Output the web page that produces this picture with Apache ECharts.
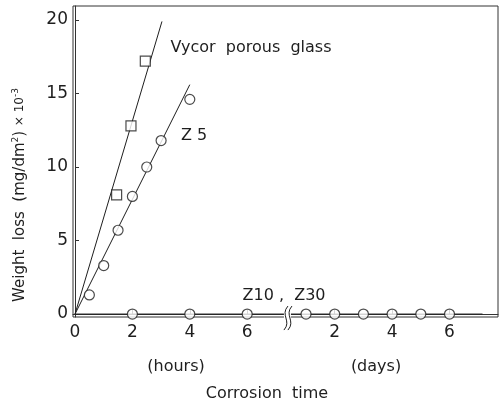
<!DOCTYPE html>
<html>
<head>
<meta charset="utf-8">
<script src="https://cdn.jsdelivr.net/npm/echarts@6/dist/echarts.min.js"></script>
<style>html,body{margin:0;padding:0;background:#fff}#c{width:499px;height:406px}</style>
</head>
<body>
<div id="c"></div>
<script>
// ---- data ----
// shared x axis: hours run 0..7, then day 0 sits at DAY_OFFSET
const DAY_OFFSET = 7.05;
const hourTicks = [0, 2, 4, 6];
const dayTicks = [2, 4, 6];
const yTicks = [0, 5, 10, 15, 20];

const vycorHours = [1.45, 1.95, 2.45];
const vycorLoss = [8.1, 12.8, 17.2];
const vycorFitHours = [0, 3.03];
const vycorFitLoss = [0, 19.9];

const z5Hours = [0.5, 1, 1.5, 2, 2.5, 3, 4];
const z5Loss = [1.3, 3.3, 5.7, 8.0, 10.0, 11.8, 14.6];
const z5FitHours = [0, 4.0];
const z5FitLoss = [0, 15.6];

const z10Hours = [2, 4, 6];
const z10HoursLoss = [0, 0, 0];
const z10Days = [1, 2, 3, 4, 5, 6];
const z10DaysLoss = [0, 0, 0, 0, 0, 0];
const z10FitEndDays = 7.15;

// ---- build ----
const dayPos = d => DAY_OFFSET + d;
const zip = (xs, ys) => xs.map((x, i) => [x, ys[i]]);
const xTickValues = hourTicks.concat(dayTicks.map(dayPos));

const FONT = 'DejaVu Sans';
const INK = '#1e1e1e';

const chart = echarts.init(document.getElementById('c'), null, {renderer: 'canvas'});
const lineStyle = {color: INK, width: 1};
const markStyle = {color: '#fff', borderColor: INK, borderWidth: 1.2};

chart.setOption({
  animation: false,
  backgroundColor: '#fff',
  grid: {left: 73, top: 6, right: 1, bottom: 89, show: true, borderColor: '#333', borderWidth: 1, containLabel: false},
  xAxis: {
    type: 'value', min: -0.07, max: 14.74,
    axisLine: {show: true, lineStyle: {color: '#333', width: 1}},
    axisTick: {show: true, inside: true, length: 4, customValues: xTickValues, lineStyle: {color: '#333'}},
    axisLabel: {
      customValues: xTickValues, margin: 7, color: INK, fontFamily: FONT, fontSize: 17,
      formatter: v => String(v > DAY_OFFSET ? Math.round(v - DAY_OFFSET) : Math.round(v))
    },
    splitLine: {show: false}
  },
  yAxis: {
    type: 'value', min: -0.2, max: 20.95,
    axisLine: {show: true, lineStyle: {color: '#333', width: 1}},
    axisTick: {show: true, inside: true, length: 4, customValues: yTicks, lineStyle: {color: '#333'}},
    axisLabel: {customValues: yTicks, margin: 5, color: INK, fontFamily: FONT, fontSize: 17},
    splitLine: {show: false}
  },
  series: [
    {type: 'line', data: zip(vycorFitHours, vycorFitLoss), symbol: 'none', lineStyle, z: 2},
    {type: 'scatter', data: zip(vycorHours, vycorLoss), symbol: 'rect', symbolSize: 10, itemStyle: markStyle, z: 3},
    {type: 'line', data: zip(z5FitHours, z5FitLoss), symbol: 'none', lineStyle, z: 2},
    {type: 'scatter', data: zip(z5Hours, z5Loss), symbol: 'circle', symbolSize: 10, itemStyle: markStyle, z: 3},
    {type: 'line', data: [[0, 0], [dayPos(z10FitEndDays), 0]], symbol: 'none', lineStyle, z: 2},
    {type: 'scatter', data: zip(z10Hours, z10HoursLoss).concat(zip(z10Days.map(dayPos), z10DaysLoss)),
     symbol: 'circle', symbolSize: 10, itemStyle: markStyle, z: 3}
  ]
});

// ---- annotations ----
const brk = chart.convertToPixel({gridIndex: 0}, [dayPos(0.37), 0]);
function squiggle(x, yTop, yBot) {
  return {type: 'bezierCurve', z: 10,
    shape: {x1: x + 2, y1: yTop, cpx1: x - 6, cpy1: yTop + 9, cpx2: x + 6, cpy2: yBot - 9, x2: x - 2, y2: yBot},
    style: {stroke: INK, lineWidth: 1, fill: null}};
}
const txt = (text, x, y, size, extra) => Object.assign({type: 'text', x, y, z: 10,
  style: {text, fill: INK, font: size + 'px "' + FONT + '"', align: 'center', verticalAlign: 'middle'}}, extra || {});

chart.setOption({graphic: [
  {type: 'rect', z: 9, shape: {x: brk[0] - 4, y: brk[1] - 6, width: 7, height: 14}, style: {fill: '#fff'}},
  squiggle(brk[0] - 2, brk[1] - 8, brk[1] + 16),
  squiggle(brk[0] + 2, brk[1] - 8, brk[1] + 16),
  txt('Vycor  porous  glass', 251, 48, 16),
  txt('Z 5', 194, 136, 16),
  txt('Z10 ,  Z30', 284, 296, 16),
  txt('(hours)', 176, 367, 16),
  txt('(days)', 376, 367, 16),
  txt('Corrosion  time', 267, 394, 16),
  {type: 'text', x: 20, y: 195, rotation: Math.PI / 2, z: 10,
   style: {text: 'Weight  loss  (mg/dm{sup|2}) {sm|× 10}{sup|-3}', fill: INK, font: '15px "' + FONT + '"',
     align: 'center', verticalAlign: 'middle',
     rich: {sup: {fontSize: 9, verticalAlign: 'top', fill: INK, fontFamily: FONT, padding: [0, 0, 8, 0]},
            sm: {fontSize: 12, fill: INK, fontFamily: FONT}}}}
]});
</script>
</body>
</html>
